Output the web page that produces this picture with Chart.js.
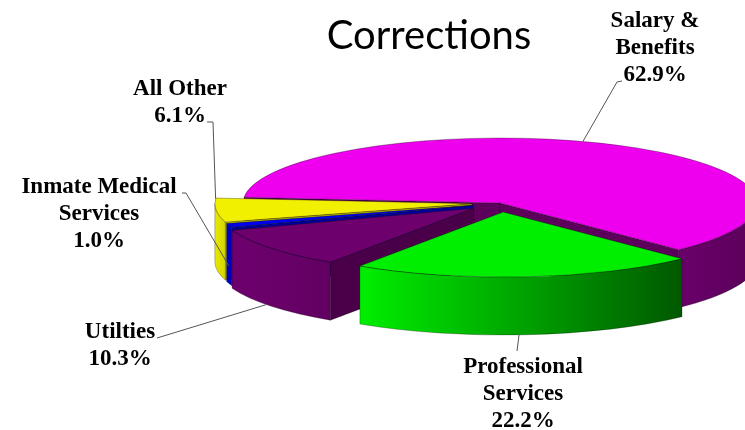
<!DOCTYPE html>
<html><head><meta charset="utf-8">
<script src="https://cdn.jsdelivr.net/npm/chart.js@4.4.1/dist/chart.umd.min.js"></script>
<style>html,body{margin:0;padding:0;background:#fff;overflow:hidden}canvas{display:block}</style>
</head><body>
<canvas id="c" width="745" height="430"></canvas>
<script>
// ---- data ----
const chartTitle = 'Corrections';
const categories = ['Salary & Benefits', 'Professional Services', 'Utilties', 'Inmate Medical Services', 'All Other'];
const values = [62.9, 22.2, 10.3, 1.0, 6.1];
const valueLabels = ['62.9%', '22.2%', '10.3%', '1.0%', '6.1%'];
const nameLines = [['Salary &', 'Benefits'], ['Professional', 'Services'], ['Utilties'], ['Inmate Medical', 'Services'], ['All Other']];

// ---- style ----
const topColors = ['#ee00ee', '#00ee00', '#6e006e', '#0000ee', '#f0f000'];
const wallGrad = [['#6a006a', '#5a005a'], ['#00ee00', '#005800'], ['#6e006e', '#620062'], ['#0000d0', '#0000b0'], ['#e8e800', '#d4d400']];
const faceColors = ['#5c005c', '#00a000', '#4a0048', '#000099', '#b8b800'];
const explode = [0, 0.14, 0.13, 0.11, 0.11];
const SX = 1.285, SY = 0.325, DEPTH = 58;
// label layout: centre x, first baseline, leader hook points, anchor (fraction along slice, depth fraction)
const labelLayout = [
  {x: 655, y: 27, hook: [[622, 81], [617, 82]], t: 0.47, h: 0},
  {x: 523, y: 373, hook: [[517, 351]], t: 0.52, h: 1},
  {x: 120, y: 338, hook: [[157, 338]], t: 0.55, h: 1},
  {x: 99, y: 193, hook: [[182, 193], [186, 193]], t: 0.5, h: 0.7},
  {x: 180, y: 95, hook: [[207, 122], [213, 122]], t: 0.97, h: 0}
];

function geometry(chart) {
  const arcs = chart.getDatasetMeta(0).data;
  return arcs.map((arc, i) => {
    const R = arc.outerRadius;
    const rx = R * SX, ry = R * SY;
    const mid = (arc.startAngle + arc.endAngle) / 2;
    return {
      i, s: arc.startAngle, e: arc.endAngle, rx, ry, depth: DEPTH,
      ox: arc.x + rx * explode[i] * Math.cos(mid),
      oy: arc.y + ry * explode[i] * Math.sin(mid)
    };
  });
}

const pie3d = {
  id: 'pie3d',
  beforeDatasetsDraw(chart) {
    const ctx = chart.ctx;
    const G = geometry(chart);
    const items = [];
    const TAU = Math.PI * 2;
    G.forEach(g => {
      for (let k = -1; k <= 1; k++) {
        const lo = Math.max(g.s, TAU * k), hi = Math.min(g.e, TAU * k + Math.PI);
        if (hi > lo) {
          const m = (lo + hi) / 2;
          items.push({key: g.oy + g.ry * Math.sin(m), draw() {
            ctx.beginPath();
            ctx.ellipse(g.ox, g.oy, g.rx, g.ry, 0, lo, hi, false);
            ctx.lineTo(g.ox + g.rx * Math.cos(hi), g.oy + g.ry * Math.sin(hi) + g.depth);
            ctx.ellipse(g.ox, g.oy + g.depth, g.rx, g.ry, 0, hi, lo, true);
            ctx.closePath();
            const x1 = g.ox + g.rx * Math.cos(hi), x2 = g.ox + g.rx * Math.cos(lo);
            const gr = ctx.createLinearGradient(Math.min(x1, x2), 0, Math.max(x1, x2) + 1, 0);
            gr.addColorStop(0, wallGrad[g.i][0]);
            gr.addColorStop(1, wallGrad[g.i][1]);
            ctx.fillStyle = gr;
            ctx.fill();
            ctx.strokeStyle = 'rgba(0,0,0,0.45)';
            ctx.lineWidth = 0.6;
            ctx.stroke();
          }});
        }
      }
      [[g.s, -Math.cos(g.s)], [g.e, Math.cos(g.e)]].forEach(([a, vis]) => {
        if (vis <= 0) return;
        items.push({key: g.oy + g.ry * 0.5 * Math.sin(a), draw() {
          const px = g.ox + g.rx * Math.cos(a), py = g.oy + g.ry * Math.sin(a);
          ctx.beginPath();
          ctx.moveTo(g.ox, g.oy);
          ctx.lineTo(px, py);
          ctx.lineTo(px, py + g.depth);
          ctx.lineTo(g.ox, g.oy + g.depth);
          ctx.closePath();
          ctx.fillStyle = faceColors[g.i];
          ctx.fill();
          ctx.strokeStyle = 'rgba(0,0,0,0.4)';
          ctx.lineWidth = 0.6;
          ctx.stroke();
        }});
      });
    });
    items.sort((a, b) => a.key - b.key);
    ctx.save();
    items.forEach(it => it.draw());
    const bg = chart.data.datasets[0].backgroundColor;
    G.forEach(g => {
      ctx.beginPath();
      ctx.moveTo(g.ox, g.oy);
      ctx.ellipse(g.ox, g.oy, g.rx, g.ry, 0, g.s, g.e, false);
      ctx.closePath();
      ctx.fillStyle = bg[g.i];
      ctx.fill();
      ctx.strokeStyle = 'rgba(0,0,0,0.5)';
      ctx.lineWidth = 0.6;
      ctx.stroke();
    });
    ctx.restore();
    return false;
  },
  afterDraw(chart) {
    const ctx = chart.ctx;
    const G = geometry(chart);
    ctx.save();
    ctx.fillStyle = '#000';
    ctx.textAlign = 'center';
    ctx.textBaseline = 'alphabetic';
    ctx.font = '40px Lato, "Open Sans", sans-serif';
    ctx.fillText(chartTitle, 429, 49);
    ctx.font = 'bold 23px "Liberation Serif", "Times New Roman", serif';
    G.forEach(g => {
      const L = labelLayout[g.i];
      const lines = nameLines[g.i].concat([valueLabels[g.i]]);
      lines.forEach((t, j) => ctx.fillText(t, L.x, L.y + j * 27));
      const a = g.s + (g.e - g.s) * L.t;
      const ax = g.ox + g.rx * Math.cos(a), ay = g.oy + g.ry * Math.sin(a) + g.depth * L.h;
      ctx.beginPath();
      ctx.moveTo(L.hook[0][0], L.hook[0][1]);
      for (let k = 1; k < L.hook.length; k++) ctx.lineTo(L.hook[k][0], L.hook[k][1]);
      ctx.lineTo(ax, ay);
      ctx.strokeStyle = '#555';
      ctx.lineWidth = 1;
      ctx.stroke();
    });
    ctx.restore();
  }
};

new Chart(document.getElementById('c'), {
  type: 'pie',
  data: {
    labels: categories,
    datasets: [{data: values, backgroundColor: topColors, borderWidth: 0}]
  },
  options: {
    responsive: false,
    animation: false,
    devicePixelRatio: 1,
    rotation: 275,
    layout: {padding: {left: 300, right: 45, top: 3, bottom: 27}},
    plugins: {legend: {display: false}, tooltip: {enabled: false}, title: {display: false}}
  },
  plugins: [pie3d]
});
</script>
</body></html>
